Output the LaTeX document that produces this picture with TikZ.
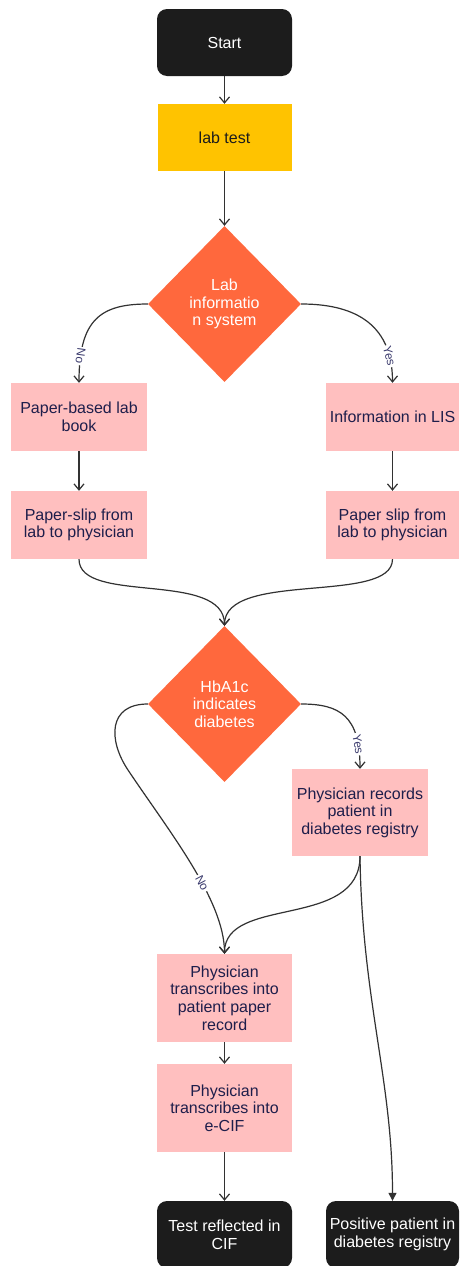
\documentclass[tikz,border=0pt]{standalone}
\usepackage{fontspec}
\setmainfont{Liberation Sans}
\usetikzlibrary{shapes.geometric,arrows.meta}
\definecolor{termblack}{RGB}{28,28,28}
\definecolor{labyellow}{RGB}{255,195,0}
\definecolor{decorange}{RGB}{255,104,61}
\definecolor{stepPink}{RGB}{255,191,191}
\definecolor{navytext}{RGB}{30,30,75}
\definecolor{labelblue}{RGB}{60,60,110}
\definecolor{linegrey}{RGB}{50,50,50}
\tikzset{
  basefont/.style={font=\fontsize{16}{17.6}\selectfont},
  terminal/.style={basefont, rectangle, rounded corners=10pt, fill=termblack, text=white, minimum width=135pt, minimum height=67pt, align=center, inner sep=2pt},
  yellowbox/.style={basefont, rectangle, fill=labyellow, text=termblack, minimum width=134pt, minimum height=67pt, align=center},
  decision/.style={basefont, diamond, fill=decorange, text=white, minimum width=153pt, minimum height=156pt, align=center, inner sep=0pt},
  pinkbox/.style={basefont, rectangle, fill=stepPink, text=navytext, minimum width=136pt, align=center, inner sep=2pt},
  conn/.style={draw=linegrey, line width=1.2pt, -{Straight Barb[length=6pt,width=10pt]}},
  connfill/.style={draw=linegrey, line width=1.2pt, -{Triangle[length=8pt,width=8pt]}},
  edgelab/.style={font=\fontsize{12}{12}\selectfont, text=labelblue, fill=white, inner sep=1.5pt, sloped, allow upside down}
}
\begin{document}
\begin{tikzpicture}[x=1pt,y=-1pt]
\useasboundingbox (0,0) rectangle (459,1266);
\fill[white] (0,0) rectangle (459,1266);

\node[terminal] (start) at (224.5,42.5) {Start};
\node[yellowbox] (lab) at (224.5,137.5) {lab test};
\node[decision] (d1) at (224.5,304) {Lab\\informatio\\n system};
\node[pinkbox, minimum height=68pt] (pb) at (79,417) {Paper-based lab\\book};
\node[pinkbox, minimum width=133pt, minimum height=68pt] (lis) at (392.5,417) {Information in LIS};
\node[pinkbox, minimum height=68pt] (slip1) at (79,525) {Paper-slip from\\lab to physician};
\node[pinkbox, minimum width=133pt, minimum height=68pt] (slip2) at (392.5,525) {Paper slip from\\lab to physician};
\node[decision] (d2) at (224.5,704) {HbA1c\\indicates\\diabetes};
\node[pinkbox, minimum height=87pt] (rec) at (360,812.5) {Physician records\\patient in\\diabetes registry};
\node[pinkbox, minimum width=135pt, minimum height=88pt] (tr1) at (224.5,998) {Physician\\transcribes into\\patient paper\\record};
\node[pinkbox, minimum width=135pt, minimum height=88pt] (ecif) at (224.5,1108) {Physician\\transcribes into\\e-CIF};
\node[terminal] (cif) at (224.5,1234.5) {Test reflected in\\CIF};
\node[terminal, minimum width=133pt] (pos) at (392.5,1234.5) {Positive patient in\\diabetes registry};

\draw[conn] (start) -- (lab);
\draw[conn] (lab) -- (d1);
\draw[conn] (d1.west) .. controls (100,304) and (79,320) .. node[edgelab,pos=0.84]{No} (pb.north);
\draw[conn] (d1.east) .. controls (349,304) and (392.5,320) .. node[edgelab,pos=0.84]{Yes} (lis.north);
\draw[conn] (pb) -- (slip1);
\draw[conn] (lis) -- (slip2);
\draw[conn] (slip1.south) .. controls (79,605) and (224.5,570) .. (d2.north);
\draw[conn] (slip2.south) .. controls (392.5,605) and (224.5,570) .. (d2.north);
\draw[conn] (d2.east) .. controls (340,704) and (360,716) .. node[edgelab,pos=0.82]{Yes} (rec.north);
\draw[conn] (d2.west) .. controls (108,704) and (108,740) .. (128,770)
  .. controls (168,830) and (224.5,900) .. node[edgelab,pos=0.6]{No} (tr1.north);
\draw[conn] (rec.south) .. controls (360,930) and (224.5,895) .. (tr1.north);
\draw[connfill] (rec.south) .. controls (362,1000) and (392.5,1080) .. (pos.north);
\draw[conn] (tr1) -- (ecif);
\draw[conn] (ecif) -- (cif);
\end{tikzpicture}
\end{document}
